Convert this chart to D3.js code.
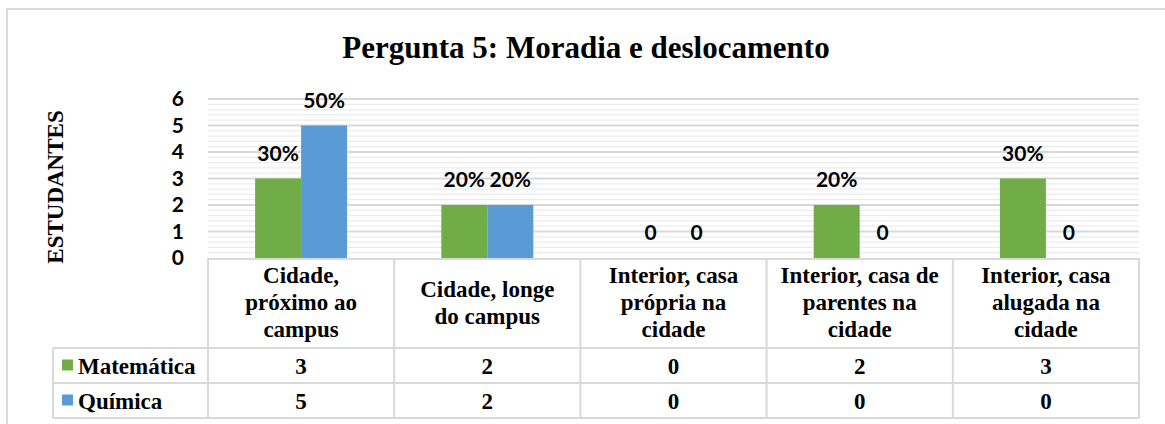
<!DOCTYPE html>
<html>
<head>
<meta charset="utf-8">
<script src="https://cdn.jsdelivr.net/npm/d3@7"></script>
<style>
  html, body { margin: 0; padding: 0; background: #fff; }
  svg { display: block; }
  .serif { font-family: 'Liberation Serif', 'Times New Roman', serif; font-weight: bold; fill: #000; }
  .sans { font-family: Lato, 'Open Sans', sans-serif; font-weight: bold; fill: #000; }
</style>
</head>
<body>
<svg id="chart"></svg>
<script>
const title = 'Pergunta 5: Moradia e deslocamento';
const yTitle = 'ESTUDANTES';
const categories = [
  ['Cidade,', 'próximo ao', 'campus'],
  ['Cidade, longe', 'do campus'],
  ['Interior, casa', 'própria na', 'cidade'],
  ['Interior, casa de', 'parentes na', 'cidade'],
  ['Interior, casa', 'alugada na', 'cidade']
];
const seriesNames = ['Matemática', 'Química'];
const seriesColors = ['#70ad47', '#5b9bd5'];
const matematica = [3, 2, 0, 2, 3];
const quimica = [5, 2, 0, 0, 0];
const matematicaLabels = ['30%', '20%', '0', '20%', '30%'];
const quimicaLabels = ['50%', '20%', '0', '0', '0'];
const yTicks = [0, 1, 2, 3, 4, 5, 6];

const width = 1165;
const height = 424;
const plot = { left: 208, right: 1139, top: 99, bottom: 258 };
const table = { legendLeft: 53, headerBottom: 348, rowHeight: 35 };
const gridColor = '#d9d9d9';

const svg = d3.select('#chart').attr('width', width).attr('height', height);

const values = [matematica, quimica];
const labels = [matematicaLabels, quimicaLabels];
const rows = categories.map((lines, i) => ({
  key: i,
  lines,
  bars: seriesNames.map((name, s) => ({ series: s, value: values[s][i], label: labels[s][i] }))
}));

const x0 = d3.scaleBand().domain(rows.map(d => d.key)).range([plot.left, plot.right]);
const bw = x0.bandwidth();
const x1 = d3.scaleBand().domain([0, 1]).range([bw * 0.253, bw * 0.747]);
const y = d3.scaleLinear().domain([0, 6]).range([plot.bottom, plot.top]);

// outer chart border (runs off the right/bottom edge like the crop)
svg.append('rect')
  .attr('x', 7).attr('y', 9)
  .attr('width', width + 20).attr('height', height + 20)
  .attr('fill', 'none').attr('stroke', gridColor).attr('stroke-width', 2);

svg.append('text')
  .attr('class', 'serif')
  .attr('x', 586).attr('y', 58)
  .attr('text-anchor', 'middle')
  .style('font-size', '31px')
  .text(title);

// gridlines: minor every 0.2, major every 1
const minorTicks = d3.range(0, 6.001, 0.2).filter(v => Math.abs(v - Math.round(v)) > 0.01);
svg.append('g').selectAll('line')
  .data(minorTicks)
  .join('line')
  .attr('x1', plot.left).attr('x2', plot.right)
  .attr('y1', d => y(d)).attr('y2', d => y(d))
  .attr('stroke', '#ececec').attr('stroke-width', 1.2);

svg.append('g').selectAll('line')
  .data(yTicks.filter(d => d > 0))
  .join('line')
  .attr('x1', plot.left).attr('x2', plot.right)
  .attr('y1', d => y(d)).attr('y2', d => y(d))
  .attr('stroke', gridColor).attr('stroke-width', 2);

const yAxis = svg.append('g')
  .attr('transform', `translate(${plot.left},0)`)
  .call(d3.axisLeft(y).tickValues(yTicks).tickFormat(d3.format('d')).tickSize(0).tickPadding(24));
yAxis.select('.domain').remove();
yAxis.selectAll('text')
  .attr('class', 'sans')
  .attr('font-family', null)
  .style('font-size', '21px');

svg.append('text')
  .attr('class', 'serif')
  .attr('transform', 'translate(63,187) rotate(-90)')
  .attr('text-anchor', 'middle')
  .style('font-size', '23px')
  .text(yTitle);

// bars and labels
const groups = svg.append('g').selectAll('g')
  .data(rows)
  .join('g')
  .attr('transform', d => `translate(${x0(d.key)},0)`);

groups.selectAll('rect')
  .data(d => d.bars)
  .join('rect')
  .attr('x', d => x1(d.series))
  .attr('width', x1.bandwidth())
  .attr('y', d => y(d.value))
  .attr('height', d => y(0) - y(d.value))
  .attr('fill', d => seriesColors[d.series]);

groups.selectAll('text')
  .data(d => d.bars)
  .join('text')
  .attr('class', 'sans')
  .attr('x', d => x1(d.series) + x1.bandwidth() / 2)
  .attr('y', d => y(d.value) - 18)
  .attr('text-anchor', 'middle')
  .style('font-size', '21px')
  .text(d => d.label);

// data table
const tableG = svg.append('g');
const rowTops = [table.headerBottom, table.headerBottom + table.rowHeight];
const tableBottom = table.headerBottom + table.rowHeight * 2;
const lineStyle = sel => sel.attr('stroke', gridColor).attr('stroke-width', 2);

tableG.append('line').attr('x1', plot.left).attr('x2', plot.right)
  .attr('y1', plot.bottom + 1).attr('y2', plot.bottom + 1).call(lineStyle);
[table.headerBottom, table.headerBottom + table.rowHeight, tableBottom].forEach(yy => {
  tableG.append('line').attr('x1', table.legendLeft).attr('x2', plot.right)
    .attr('y1', yy).attr('y2', yy).call(lineStyle);
});
tableG.append('line').attr('x1', table.legendLeft).attr('x2', table.legendLeft)
  .attr('y1', table.headerBottom).attr('y2', tableBottom).call(lineStyle);
tableG.selectAll('.col-line')
  .data(rows.map(d => x0(d.key)).concat([plot.right]))
  .join('line')
  .attr('class', 'col-line')
  .attr('x1', d => d).attr('x2', d => d)
  .attr('y1', plot.bottom).attr('y2', tableBottom)
  .call(lineStyle);

const headerMid = (plot.bottom + table.headerBottom) / 2;
groups.each(function(d) {
  const g = d3.select(this);
  const n = d.lines.length;
  g.selectAll('.cat-label')
    .data(d.lines)
    .join('text')
    .attr('class', 'serif cat-label')
    .attr('x', bw / 2)
    .attr('y', (line, i) => headerMid + (i - (n - 1) / 2) * 27 + 7)
    .attr('text-anchor', 'middle')
    .style('font-size', '23px')
    .text(line => line);
  g.selectAll('.cell')
    .data(d.bars)
    .join('text')
    .attr('class', 'serif cell')
    .attr('x', bw / 2)
    .attr('y', b => rowTops[b.series] + table.rowHeight / 2 + 8)
    .attr('text-anchor', 'middle')
    .style('font-size', '23px')
    .text(b => b.value);
});

const legend = tableG.selectAll('.legend')
  .data(seriesNames)
  .join('g')
  .attr('class', 'legend')
  .attr('transform', (d, i) => `translate(${table.legendLeft},${rowTops[i]})`);
legend.append('rect')
  .attr('x', 9).attr('y', table.rowHeight / 2 - 6)
  .attr('width', 11).attr('height', 11)
  .attr('fill', (d, i) => seriesColors[i]);
legend.append('text')
  .attr('class', 'serif')
  .attr('x', 25).attr('y', table.rowHeight / 2 + 8)
  .style('font-size', '23px')
  .text(d => d);
</script>
</body>
</html>
